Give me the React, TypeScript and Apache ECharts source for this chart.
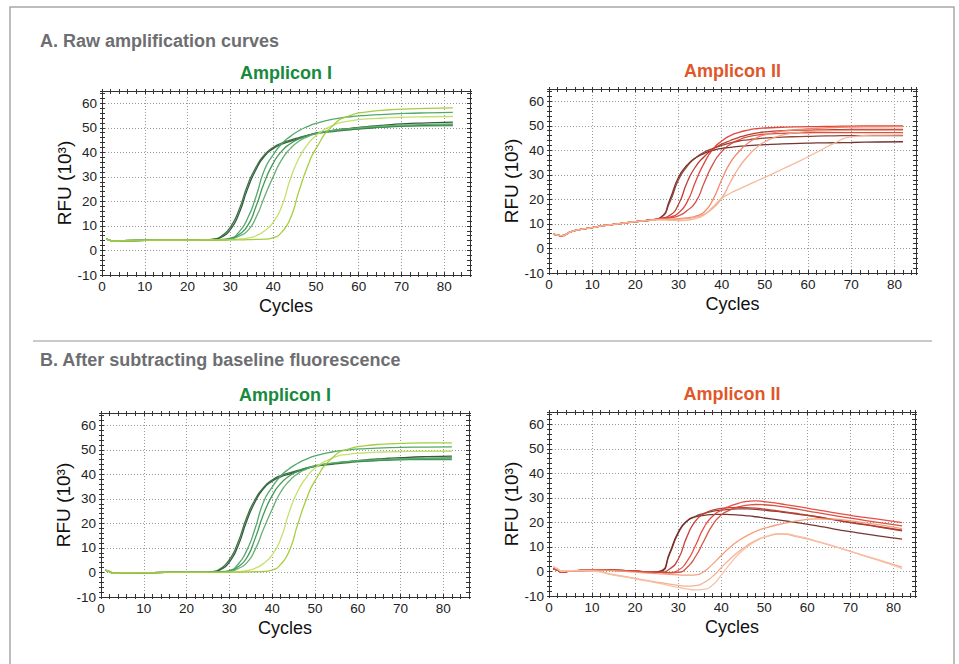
import React, { useEffect, useRef } from "react";
import * as echarts from "echarts";

// ---------- DATA ----------
const CYCLES = [1, 2, 3, 5, 10, 15, 20, 24, 26, 28, 30, 32, 34, 36, 38, 40, 42, 44, 46, 48, 50, 54, 58, 62, 66, 70, 76, 82];
const X_TICK_LABELS = [0, 10, 20, 30, 40, 50, 60, 70, 80];
const Y_TICK_LABELS = [-10, 0, 10, 20, 30, 40, 50, 60];

// A. Raw, Amplicon I (green)
const G_A_DARK1 = [4.8, 4.1, 3.8, 4.0, 4.1, 4.2, 4.2, 4.3, 4.5, 5.5, 8.5, 15, 25, 33, 38.5, 41.5, 43.3, 44.5, 45.6, 46.8, 47.8, 48.9, 49.8, 50.5, 51.1, 51.6, 52.0, 52.3];
const G_A_DARK2 = [4.7, 4.0, 3.8, 4.0, 4.1, 4.2, 4.2, 4.3, 4.6, 6.0, 9.5, 16.5, 26.5, 34, 39, 42, 43.8, 45, 46, 46.9, 47.6, 48.5, 49.2, 49.8, 50.3, 50.7, 51.0, 51.2];
const G_A_MED1 = [4.8, 4.0, 3.8, 4.0, 4.1, 4.2, 4.2, 4.2, 4.3, 4.5, 5.0, 7.5, 13, 22, 33, 39, 43.5, 46.5, 48.8, 50.5, 51.8, 53.5, 54.5, 55.1, 55.5, 55.8, 56.1, 56.3];
const G_A_MED2 = [4.8, 4.0, 3.8, 4.0, 4.1, 4.2, 4.2, 4.2, 4.3, 4.4, 4.8, 6.5, 10, 18, 28, 35.5, 40.5, 43.5, 45.5, 46.8, 47.8, 48.8, 49.5, 50.0, 50.3, 50.6, 50.8, 50.9];
const G_A_MED3 = [4.8, 4.0, 3.8, 4.0, 4.1, 4.2, 4.2, 4.2, 4.3, 4.3, 4.6, 5.8, 8, 13.5, 22, 30, 37, 41.5, 44.5, 46.3, 47.5, 48.9, 49.7, 50.3, 50.8, 51.1, 51.4, 51.6];
const G_A_LIGHT1 = [4.8, 4.0, 3.8, 4.0, 4.1, 4.2, 4.2, 4.3, 4.3, 4.3, 4.4, 4.6, 5.0, 6.0, 8.0, 11.5, 18, 29, 37.5, 43, 46.8, 51, 52.8, 53.6, 54, 54.3, 54.5, 54.6];
const G_A_LIGHT2 = [4.8, 4.0, 3.8, 4.0, 4.1, 4.2, 4.2, 4.2, 4.2, 4.2, 4.3, 4.3, 4.4, 4.5, 4.6, 5.2, 7.5, 13, 24, 34, 41.5, 51, 55, 56.5, 57.2, 57.6, 57.9, 58.1];

// A. Raw, Amplicon II (red)
const R_A_1 = [6.0, 5.4, 5.2, 6.8, 8.5, 9.8, 10.9, 11.7, 12.8, 20, 29, 34, 37, 38.8, 40, 40.8, 41.2, 41.6, 41.9, 42.1, 42.3, 42.6, 42.8, 43, 43.1, 43.2, 43.4, 43.5];
const R_A_2 = [5.9, 5.3, 5.1, 6.8, 8.5, 9.8, 10.9, 11.7, 12.7, 19, 28, 33.5, 37, 39.3, 40.8, 42, 43, 43.8, 44.3, 44.7, 45, 45.4, 45.6, 45.8, 45.9, 46, 46, 46];
const R_A_3 = [6.0, 5.4, 5.2, 6.8, 8.5, 9.8, 10.9, 11.7, 12.3, 13.5, 18, 27, 33.5, 37.5, 40.5, 42.5, 44, 45.3, 46.3, 47, 47.5, 48, 48.2, 48.3, 48.4, 48.5, 48.5, 48.5];
const R_A_4 = [6.0, 5.4, 5.2, 6.8, 8.5, 9.8, 10.9, 11.7, 12.2, 12.8, 14.5, 19, 27.5, 35, 40.5, 43.8, 46, 47.3, 48.2, 48.8, 49.1, 49.4, 49.6, 49.7, 49.8, 49.9, 50, 50];
const R_A_5 = [6.0, 5.4, 5.2, 6.8, 8.5, 9.8, 10.9, 11.7, 12.1, 12.5, 13.3, 15.5, 19, 27, 34.5, 39.5, 42.5, 44.3, 45.5, 46.2, 46.6, 46.9, 47.1, 47.2, 47.2, 47.2, 47.2, 47.2];
const R_A_6 = [6.0, 5.4, 5.2, 6.8, 8.5, 9.8, 10.9, 11.6, 12, 12, 12.2, 12.5, 13.2, 15, 20, 28, 35, 39.5, 42.8, 45, 46.3, 47.8, 48.5, 49, 49.3, 49.5, 49.6, 49.7];
const R_A_7 = [6.0, 5.4, 5.2, 6.8, 8.5, 9.8, 10.9, 11.6, 11.8, 11.8, 11.9, 12.2, 12.8, 14, 16.5, 20.5, 27, 33, 37.5, 41, 43.5, 46.2, 47.3, 47.8, 48, 48.1, 48.1, 48.1];
const R_A_8 = [6.0, 5.4, 5.2, 6.8, 8.5, 9.8, 10.9, 11.5, 11.7, 11.5, 11.4, 11.6, 12.2, 13.8, 17, 20.5, 22.5, 24.2, 25.8, 27.4, 29, 32.3, 35.6, 39.2, 42.8, 45.5, 46.2, 46.3];

// B. Baseline-subtracted, Amplicon I (green)
const G_B_DARK1 = [1.0, 0.3, -0.3, -0.2, -0.1, 0, 0, 0, 0.2, 1.2, 4.2, 10.7, 20.7, 28.7, 34.2, 37.2, 39, 40.1, 41.2, 42.3, 43.3, 44.4, 45.2, 45.9, 46.4, 46.8, 47.2, 47.4];
const G_B_DARK2 = [0.9, 0.2, -0.3, -0.2, -0.1, 0, 0, 0, 0.3, 1.7, 5.2, 12.2, 22.2, 29.7, 34.7, 37.7, 39.5, 40.6, 41.6, 42.5, 43.2, 44.1, 44.8, 45.4, 45.8, 46.2, 46.5, 46.7];
const G_B_MED1 = [1.0, 0.3, -0.3, -0.2, -0.1, 0, 0, 0, 0.1, 0.3, 0.8, 3.3, 8.8, 17.8, 28.8, 34.8, 39.3, 42.3, 44.5, 46.2, 47.5, 49.1, 50, 50.5, 50.8, 51, 51.1, 51.2];
const G_B_MED2 = [1.0, 0.3, -0.3, -0.2, -0.1, 0, 0, 0, 0.1, 0.2, 0.6, 2.3, 5.8, 13.8, 23.8, 31.3, 36.3, 39.3, 41.3, 42.6, 43.5, 44.5, 45.1, 45.5, 45.7, 45.9, 46, 46];
const G_B_MED3 = [1.0, 0.3, -0.3, -0.2, -0.1, 0, 0, 0, 0.1, 0.1, 0.4, 1.6, 3.8, 9.3, 17.8, 25.8, 32.8, 37.3, 40.3, 42.1, 43.3, 44.6, 45.3, 45.8, 46.1, 46.3, 46.5, 46.6];
const G_B_LIGHT1 = [1.0, 0.3, -0.3, -0.2, -0.1, 0, 0, 0, 0, 0, 0.1, 0.3, 0.7, 1.7, 3.7, 7.2, 13.7, 24.7, 33.2, 38.7, 42.5, 46.6, 48.2, 48.8, 49.1, 49.3, 49.4, 49.4];
const G_B_LIGHT2 = [1.0, 0.3, -0.3, -0.2, -0.1, 0, 0, 0, 0, 0, 0.1, 0.1, 0.2, 0.3, 0.4, 1.0, 3.3, 8.8, 19.8, 29.8, 37.3, 46.6, 50.4, 51.7, 52.3, 52.6, 52.8, 52.8];

// B. Baseline-subtracted, Amplicon II (red)
const R_B_1 = [1.2, 0.5, -0.4, 0.2, 0.5, 0.5, 0.1, -0.3, 0, 7, 15.5, 20.5, 22.5, 23.7, 24.5, 25, 25.3, 25.5, 25.5, 25.3, 25, 24.2, 23.3, 22.3, 21.1, 19.9, 18.3, 16.6];
const R_B_2 = [1.2, 0.5, -0.4, 0.2, 0.5, 0.5, 0.1, -0.3, 0.2, 7.5, 16, 20.5, 22.2, 22.9, 23.2, 23.3, 23.2, 23, 22.7, 22.3, 21.8, 20.8, 19.8, 18.7, 17.4, 16.2, 14.6, 13.2];
const R_B_3 = [1.2, 0.5, -0.4, 0.2, 0.5, 0.5, 0.1, -0.3, -0.3, 1, 5, 14, 20.5, 23.5, 25, 25.7, 26, 26.1, 26, 25.8, 25.4, 24.5, 23.5, 22.4, 21.2, 20.1, 18.5, 16.8];
const R_B_4 = [1.2, 0.5, -0.4, 0.2, 0.5, 0.5, 0.1, -0.3, -0.4, -0.5, 0.5, 4, 10.5, 18, 22.5, 25, 26.6, 27.8, 28.6, 28.8, 28.5, 27.5, 26.4, 25.2, 24, 22.9, 21.4, 19.9];
const R_B_5 = [1.2, 0.5, -0.4, 0.2, 0.5, 0.5, 0.1, -0.3, -0.4, -0.6, -0.4, 1.5, 6, 12.5, 19, 23, 25, 26.3, 27, 27.3, 27.2, 26.4, 25.3, 24.1, 22.9, 21.7, 20.1, 18.6];
const R_B_6 = [1.8, 1, 0, 0.3, 0.5, 0.3, -0.3, -0.8, -1.0, -1.2, -1.4, -1.5, -1.4, 0, 3, 6.5, 9.8, 12.5, 14.6, 16.3, 17.6, 19.4, 20.7, 21.4, 21.3, 20.6, 19.2, 17.5];
const R_B_7 = [2, 1, 0.2, 0.3, 0.2, -1.3, -2.8, -4, -4.6, -5.2, -5.7, -6, -5.8, -4.5, -2, 1.5, 5, 8, 10.6, 12.6, 14, 15.2, 14, 12.3, 10.3, 8.2, 5, 1.8];
const R_B_8 = [2, 1, 0.2, 0.3, 0.1, -1.5, -3, -4.3, -5, -5.8, -6.5, -7.1, -7.5, -7.3, -5.5, -1.5, 3, 7, 10, 12.3, 14, 15.4, 14.3, 12.5, 10.4, 8.2, 4.8, 1.2];

// ---------- STYLE / LAYOUT ----------
const FONT = '"Liberation Sans", Arial, Helvetica, sans-serif';
const GREEN_COLORS = ["#29522f", "#366a3e", "#4aa463", "#3a944f", "#5cad6a", "#c2de66", "#a0ca36"];
const RED_A_COLORS = ["#6b2b26", "#8e3a30", "#b8332a", "#e23b35", "#cc4a3c", "#f08565", "#f5a383", "#f7b596"];
const RED_B_COLORS = ["#8a3a32", "#6e2c28", "#c0392b", "#e8453c", "#d44a3a", "#f29a78", "#f6ad8e", "#f8c0a4"];

const PANELS = [
  { left: 102, top: 91, width: 368, height: 184, xMax: 86, title: "Amplicon I", titleColor: "#178a3d",
    series: [G_A_DARK1, G_A_DARK2, G_A_MED1, G_A_MED2, G_A_MED3, G_A_LIGHT1, G_A_LIGHT2], colors: GREEN_COLORS },
  { left: 549, top: 89, width: 367, height: 184, xMax: 85, title: "Amplicon II", titleColor: "#e0572a",
    series: [R_A_1, R_A_2, R_A_3, R_A_4, R_A_5, R_A_6, R_A_7, R_A_8], colors: RED_A_COLORS },
  { left: 101, top: 413, width: 368, height: 184, xMax: 86, title: "Amplicon I", titleColor: "#178a3d",
    series: [G_B_DARK1, G_B_DARK2, G_B_MED1, G_B_MED2, G_B_MED3, G_B_LIGHT1, G_B_LIGHT2], colors: GREEN_COLORS },
  { left: 549, top: 412, width: 366, height: 184, xMax: 85, title: "Amplicon II", titleColor: "#e0572a",
    series: [R_B_1, R_B_2, R_B_3, R_B_4, R_B_5, R_B_6, R_B_7, R_B_8], colors: RED_B_COLORS },
];

const AXIS_COLOR = "#333";
const Y_MIN = -10;
const Y_MAX = 65;

function buildOption() {
  const grid: any[] = [];
  const xAxis: any[] = [];
  const yAxis: any[] = [];
  const series: any[] = [];
  const graphic: any[] = [];

  graphic.push({
    type: "rect", silent: true, z: 0,
    shape: { x: 10, y: 7, width: 944, height: 720 },
    style: { fill: "none", stroke: "#a8a8a8", lineWidth: 1.5 },
  });
  graphic.push({
    type: "line", silent: true,
    shape: { x1: 33, y1: 341, x2: 932, y2: 341 },
    style: { stroke: "#b8b8b8", lineWidth: 1.5 },
  });
  graphic.push({
    type: "text", x: 40, y: 41,
    style: { text: "A. Raw amplification curves", fill: "#6d6e71", font: `bold 18px ${FONT}`, align: "left", verticalAlign: "middle" },
  });
  graphic.push({
    type: "text", x: 40, y: 360,
    style: { text: "B. After subtracting baseline fluorescence", fill: "#6d6e71", font: `bold 18px ${FONT}`, align: "left", verticalAlign: "middle" },
  });

  PANELS.forEach((p, g) => {
    grid.push({ left: p.left, top: p.top, width: p.width, height: p.height, containLabel: false, backgroundColor: "#fff", show: true, borderWidth: 0 });
    graphic.push({
      type: "text", x: p.left + p.width / 2, y: p.top - 18,
      style: { text: p.title, fill: p.titleColor, font: `bold 18px ${FONT}`, align: "center", verticalAlign: "middle" },
    });

    const xb = { gridIndex: g, type: "value", min: 0, max: p.xMax, interval: 2, splitLine: { show: false } };
    const yb = { gridIndex: g, type: "value", min: Y_MIN, max: Y_MAX, interval: 2, splitLine: { show: false } };
    const line = { show: true, onZero: false, lineStyle: { color: AXIS_COLOR, width: 1 } };
    const noLine = { show: false, onZero: false };
    const tickIn = { show: true, inside: true, length: 3, lineStyle: { color: AXIS_COLOR, width: 1 } };
    const tickOut = { show: true, inside: false, length: 2, lineStyle: { color: AXIS_COLOR, width: 1 } };

    xAxis.push({
      ...xb, position: "bottom", axisLine: line, axisTick: tickIn,
      axisLabel: {
        show: true, margin: 4, color: "#222", fontSize: 13.5, fontFamily: FONT,
        formatter: (v: number) => (X_TICK_LABELS.includes(v) ? String(v) : ""),
      },
      name: "Cycles", nameLocation: "middle", nameGap: 22,
      nameTextStyle: { fontSize: 18, color: "#111", fontFamily: FONT },
    });
    xAxis.push({ ...xb, position: "bottom", axisLine: noLine, axisTick: tickOut, axisLabel: { show: false } });
    xAxis.push({ ...xb, position: "top", axisLine: line, axisTick: tickIn, axisLabel: { show: false } });
    xAxis.push({ ...xb, position: "top", axisLine: noLine, axisTick: tickOut, axisLabel: { show: false } });
    xAxis.push({
      ...xb, interval: 10, position: "bottom", axisLine: noLine, axisTick: { show: false }, axisLabel: { show: false },
      splitLine: { show: true, lineStyle: { type: [1, 2], color: "#9a9a9a", width: 1 } },
    });

    yAxis.push({
      ...yb, position: "left", axisLine: line, axisTick: tickIn,
      axisLabel: {
        show: true, margin: 5, color: "#222", fontSize: 13.5, fontFamily: FONT,
        formatter: (v: number) => (Y_TICK_LABELS.includes(v) ? String(v) : ""),
      },
      name: "RFU (10³)", nameLocation: "middle", nameGap: 27, nameRotate: 90,
      nameTextStyle: { fontSize: 19, color: "#111", fontFamily: FONT },
    });
    yAxis.push({ ...yb, position: "left", axisLine: noLine, axisTick: tickOut, axisLabel: { show: false } });
    yAxis.push({ ...yb, position: "right", axisLine: line, axisTick: tickIn, axisLabel: { show: false } });
    yAxis.push({ ...yb, position: "right", axisLine: noLine, axisTick: tickOut, axisLabel: { show: false } });
    yAxis.push({
      ...yb, interval: 10, position: "left", axisLine: noLine, axisTick: { show: false }, axisLabel: { show: false },
      splitLine: { show: true, lineStyle: { type: [1, 2], color: "#9a9a9a", width: 1 } },
    });

    p.series.forEach((vals, i) => {
      series.push({
        type: "line",
        xAxisIndex: g * 5,
        yAxisIndex: g * 5,
        data: CYCLES.map((c, k) => [c, vals[k]]),
        showSymbol: false,
        symbol: "none",
        smooth: 0.6,
        silent: true,
        lineStyle: { width: 1.3, color: p.colors[i], opacity: 0.95 },
        itemStyle: { color: p.colors[i] },
        z: 3,
      });
    });
  });

  return {
    animation: false,
    backgroundColor: "#ffffff",
    textStyle: { fontFamily: FONT },
    grid,
    xAxis,
    yAxis,
    series,
    graphic,
  };
}

export default function App() {
  const ref = useRef<HTMLDivElement>(null);
  useEffect(() => {
    if (!ref.current) return;
    const chart = echarts.init(ref.current, undefined, { renderer: "svg" });
    chart.setOption(buildOption() as any);
    return () => chart.dispose();
  }, []);
  return (
    <div
      ref={ref}
      style={{ position: "absolute", left: 0, top: 0, width: 959, height: 664, background: "#fff" }}
    />
  );
}
